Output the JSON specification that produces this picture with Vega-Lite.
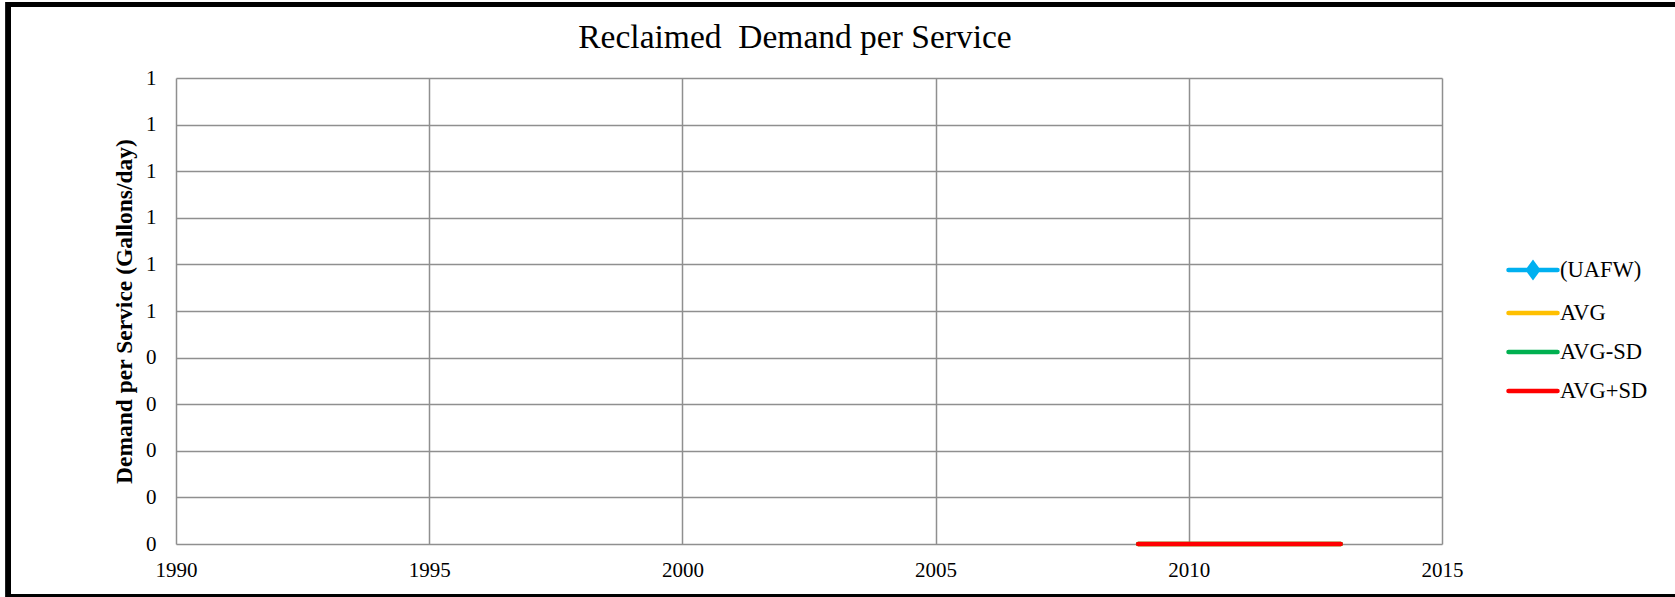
{
  "$schema": "https://vega.github.io/schema/vega-lite/v6.json",
  "autosize": "none",
  "width": 1266,
  "height": 466,
  "padding": {"left": 176, "top": 78, "right": 233, "bottom": 53},
  "background": "white",
  "config": {
    "view": {"stroke": null},
    "font": "Liberation Serif"
  },
  "title": {
    "text": "Reclaimed\u00a0 Demand per Service",
    "font": "Liberation Serif",
    "fontSize": 33.5,
    "fontWeight": "normal",
    "color": "black",
    "anchor": "middle",
    "frame": "group",
    "baseline": "alphabetic",
    "dx": -14,
    "offset": -79
  },
  "data": {
    "values": [
      {"year": 2009, "series": "AVG", "value": 0},
      {"year": 2010, "series": "AVG", "value": 0},
      {"year": 2011, "series": "AVG", "value": 0},
      {"year": 2012, "series": "AVG", "value": 0},
      {"year": 2013, "series": "AVG", "value": 0},
      {"year": 2009, "series": "AVG-SD", "value": 0},
      {"year": 2010, "series": "AVG-SD", "value": 0},
      {"year": 2011, "series": "AVG-SD", "value": 0},
      {"year": 2012, "series": "AVG-SD", "value": 0},
      {"year": 2013, "series": "AVG-SD", "value": 0},
      {"year": 2009, "series": "AVG+SD", "value": 0},
      {"year": 2010, "series": "AVG+SD", "value": 0},
      {"year": 2011, "series": "AVG+SD", "value": 0},
      {"year": 2012, "series": "AVG+SD", "value": 0},
      {"year": 2013, "series": "AVG+SD", "value": 0}
    ]
  },
  "layer": [
    {
      "mark": {"type": "rect", "filled": false, "stroke": "black", "strokeWidth": 5, "clip": false},
      "encoding": {
        "x": {"datum": 1986.69, "type": "quantitative", "scale": {"domain": [1990, 2015], "nice": false, "zero": false}},
        "x2": {"datum": 2020.5},
        "y": {"datum": 1.1577, "type": "quantitative", "scale": {"domain": [0, 1], "nice": false, "zero": false}},
        "y2": {"datum": -0.1137}
      }
    },
    {
      "transform": [{"filter": "datum.series !== 'AVG+SD'"}],
      "mark": {"type": "line", "strokeWidth": 4.5, "strokeCap": "round"},
      "encoding": {
        "x": {"field": "year", "type": "quantitative"},
        "y": {"field": "value", "type": "quantitative"},
        "color": {"field": "series", "type": "nominal"}
      }
    },
    {
      "transform": [{"filter": "datum.series === 'AVG+SD'"}],
      "mark": {"type": "line", "strokeWidth": 4.5, "strokeCap": "round"},
      "encoding": {
        "x": {
          "field": "year", "type": "quantitative",
          "scale": {"domain": [1990, 2015], "nice": false, "zero": false},
          "axis": {
            "values": [1990, 1995, 2000, 2005, 2010, 2015],
            "format": "d",
            "title": null,
            "domain": false,
            "ticks": false,
            "grid": true,
            "gridColor": "#8f8f8f",
            "gridWidth": 1.5,
            "labelFont": "Liberation Serif",
            "labelFontSize": 21,
            "labelColor": "black",
            "labelPadding": 15,
            "labelFlush": false
          }
        },
        "y": {
          "field": "value", "type": "quantitative",
          "scale": {"domain": [0, 1], "nice": false, "zero": false},
          "axis": {
            "values": [0, 0.1, 0.2, 0.3, 0.4, 0.5, 0.6, 0.7, 0.8, 0.9, 1],
            "labelExpr": "datum.value >= 0.5 ? '1' : '0'",
            "title": "Demand per Service (Gallons/day)",
            "titleFont": "Liberation Serif",
            "titleFontSize": 23.5,
            "titleFontWeight": "bold",
            "titleColor": "black",
            "titlePadding": 9,
            "domain": false,
            "ticks": false,
            "grid": true,
            "gridColor": "#8f8f8f",
            "gridWidth": 1.5,
            "labelFont": "Liberation Serif",
            "labelFontSize": 21,
            "labelColor": "black",
            "labelPadding": 20,
            "labelFlush": false
          }
        },
        "color": {
          "field": "series", "type": "nominal",
          "scale": {
            "domain": ["(UAFW)", "AVG", "AVG-SD", "AVG+SD"],
            "range": ["#00B0F0", "#FFC000", "#00B050", "#FF0000"]
          },
          "legend": {
            "title": null,
            "orient": "none",
            "legendX": 1330,
            "legendY": 165,
            "symbolType": "stroke",
            "symbolSize": 2401,
            "symbolStrokeWidth": 4.5,
            "labelFont": "Liberation Serif",
            "labelFontSize": 22.5,
            "labelColor": "black",
            "labelOffset": 0,
            "rowPadding": 0,
            "encode": {
              "symbols": {
                "update": {
                  "shape": {"signal": "datum.value === '(UAFW)' ? 'M-1,0L1,0M0,-0.27L0.2,0L0,0.27L-0.2,0Z' : 'stroke'"},
                  "fill": {"scale": "color", "field": "value"},
                  "strokeCap": {"value": "round"}
                }
              }
            }
          }
        }
      }
    }
  ]
}
